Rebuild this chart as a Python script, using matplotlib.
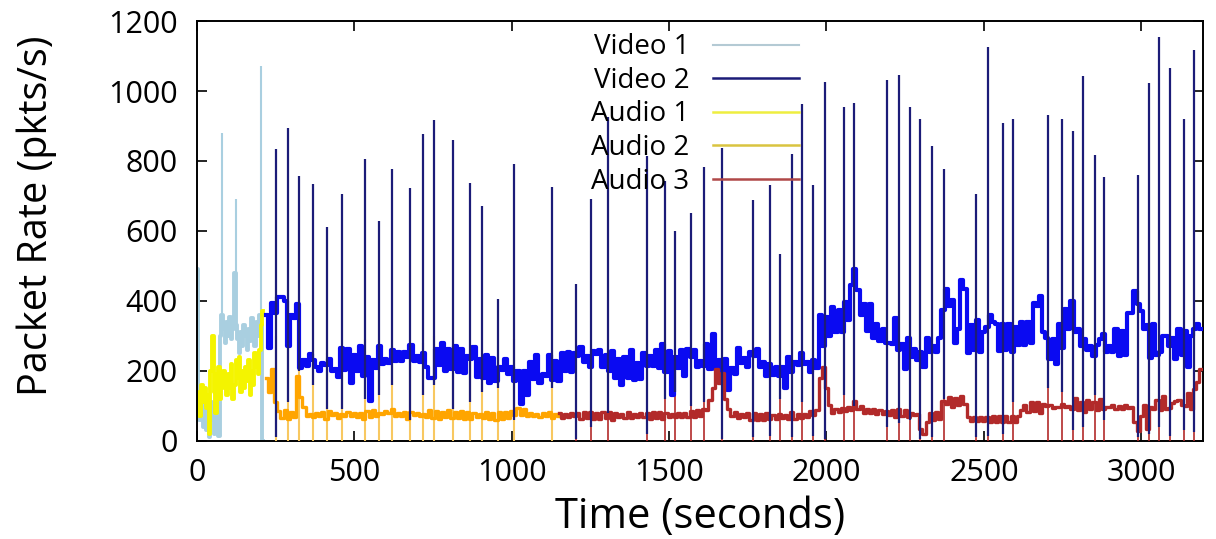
import numpy as np
import matplotlib
matplotlib.use("Agg")
import matplotlib.pyplot as plt
from matplotlib.lines import Line2D

plt.rcParams['font.family'] = ['Open Sans', 'DejaVu Sans']

# ---------------- data ----------------
# Video 1 and Audio 1: 0-210 s, 5 s samples
early_t = np.arange(0, 215, 5)
video1 = [490, 150, 60, 95, 40, 120, 30, 85, 10, 110, 60, 20, 90, 40, 15,
          300, 360, 320, 280, 340, 300, 355, 290, 320, 480, 330, 290, 250,
          310, 270, 330, 300, 260, 320, 285, 350, 300, 270, 340, 300, 360,
          330, 0]
audio1 = [140, 95, 70, 160, 110, 150, 95, 130, 20, 200, 300, 140, 80, 190,
          210, 120, 150, 200, 170, 130, 190, 150, 220, 120, 160, 230, 180,
          240, 140, 200, 150, 210, 170, 230, 130, 200, 160, 250, 210, 190,
          260, 330, 370]
video1_spike_t = [80, 124, 204]
video1_spike_hi = [881, 690, 1071]
video1_spike_lo = [300, 320, 260]

# Video 2: 220-3190 s, 10 s samples
video2_t = np.arange(220, 3200, 10)
video2 = [
    360, 265, 395, 365, 410, 410, 400, 270, 360, 352,
    390, 207, 230, 213, 247, 230, 210, 200, 222, 218,
    235, 201, 205, 183, 265, 202, 263, 166, 245, 200,
    272, 185, 240, 115, 230, 208, 271, 220, 235, 224,
    260, 227, 253, 227, 253, 240, 275, 228, 242, 226,
    252, 210, 180, 180, 263, 216, 280, 200, 262, 205,
    270, 197, 263, 195, 243, 235, 267, 182, 235, 180,
    245, 165, 237, 170, 210, 202, 233, 190, 210, 172,
    200, 105, 200, 130, 225, 178, 245, 165, 192, 185,
    245, 173, 227, 170, 250, 200, 253, 198, 250, 242,
    268, 225, 243, 210, 257, 248, 260, 212, 245, 200,
    258, 180, 233, 160, 240, 180, 260, 175, 222, 178,
    252, 215, 243, 215, 260, 208, 277, 196, 258, 130,
    240, 207, 260, 185, 263, 240, 260, 212, 228, 215,
    278, 205, 305, 205, 230, 178, 235, 145, 208, 192,
    265, 223, 237, 210, 255, 242, 263, 210, 225, 185,
    220, 187, 210, 185, 210, 150, 240, 198, 225, 218,
    250, 220, 225, 197, 230, 208, 360, 270, 355, 300,
    382, 310, 375, 310, 397, 345, 445, 490, 430, 360,
    392, 315, 390, 295, 335, 285, 320, 280, 280, 278,
    350, 260, 277, 205, 295, 240, 263, 232, 255, 210,
    295, 255, 270, 255, 295, 375, 435, 385, 402, 280,
    320, 460, 435, 250, 330, 260, 345, 255, 310, 325,
    360, 340, 335, 257, 335, 260, 335, 255, 325, 275,
    340, 275, 340, 280, 395, 385, 415, 310, 295, 235,
    292, 220, 335, 265, 377, 320, 400, 310, 320, 270,
    292, 260, 270, 243, 275, 290, 305, 255, 272, 255,
    320, 243, 315, 245, 365, 365, 427, 390, 370, 320,
    330, 237, 335, 245, 255, 300, 300, 270, 295, 235,
    320, 245, 315, 210, 300, 320, 335, 320]

# Audio 2: 220-1150 s, Audio 3: 1150-3190 s (10 s samples)
audio2_t = np.arange(220, 1160, 10)
audio2 = [
    180, 140, 205, 110, 85, 65, 88, 62, 82, 68,
    185, 125, 98, 70, 78, 68, 80, 72, 82, 64,
    85, 74, 80, 66, 78, 70, 83, 72, 79, 68,
    81, 63, 86, 67, 88, 70, 80, 77, 86, 80,
    90, 70, 80, 70, 82, 64, 84, 73, 80, 70,
    78, 68, 87, 66, 86, 64, 84, 67, 88, 66,
    84, 65, 86, 63, 82, 62, 80, 69, 78, 66,
    83, 63, 80, 61, 82, 64, 84, 66, 86, 75,
    94, 73, 92, 71, 80, 70, 78, 67, 80, 70,
    82, 66, 78, 70]
audio3_t = np.arange(1150, 3200, 10)
audio3 = [
    80, 66, 78, 68, 79, 70, 81, 64, 82, 66,
    83, 64, 81, 63, 84, 65, 82, 61, 80, 68,
    78, 66, 84, 65, 78, 67, 79, 68, 80, 63,
    82, 65, 84, 64, 81, 68, 78, 67, 80, 69,
    81, 68, 86, 67, 88, 70, 90, 88, 118, 150,
    205, 165, 195, 120, 90, 70, 83, 65, 78, 67,
    79, 61, 80, 59, 78, 60, 80, 62, 73, 63,
    76, 65, 74, 63, 82, 64, 76, 65, 78, 68,
    86, 75, 88, 180, 212, 150, 103, 81, 92, 83,
    94, 85, 96, 88, 113, 91, 100, 81, 92, 79,
    90, 78, 88, 77, 86, 75, 88, 69, 90, 71,
    88, 69, 80, 73, 78, 35, 20, 55, 80, 61,
    82, 63, 115, 105, 126, 98, 123, 103, 128, 105,
    68, 57, 67, 56, 68, 58, 67, 55, 71, 54,
    70, 53, 71, 55, 72, 54, 70, 88, 102, 83,
    110, 85, 112, 80, 106, 100, 103, 95, 98, 97,
    105, 98, 100, 92, 123, 88, 112, 82, 118, 90,
    110, 88, 120, 90, 98, 97, 104, 92, 100, 90,
    103, 95, 98, 55, 28, 70, 103, 35, 96, 92,
    118, 88, 128, 92, 93, 108, 113, 117, 103, 100,
    138, 92, 148, 168, 205]

# Periodic bursts (Video 2 peaks, with matching audio dips/peaks)
spike_t = [251, 289, 325, 369, 412, 461, 535, 579, 618, 678, 717, 752,
           814, 868, 905, 955, 1006, 1129, 1204, 1252, 1307, 1430, 1487, 1518, 1570,
           1611, 1668, 1766, 1821, 1853, 1890, 1922, 1957, 1995, 2055, 2087, 2192,
           2229, 2266, 2298, 2335, 2372,
           2475, 2512, 2562, 2594, 2704, 2748, 2784, 2815, 2852, 2883, 2989, 3025,
           3056, 3092, 3135, 3167]
spike_hi = [833, 895, 757, 733, 612, 705, 807, 628, 778, 724, 878, 916,
            860, 738, 671, 405, 792, 727, 448, 692, 925, 814, 743, 600, 650,
            784, 838, 688, 731, 533, 821, 962, 731, 1026, 955, 965, 1031, 1047,
            955, 921, 843, 776,
            705, 1126, 909, 921, 931, 921, 887, 1043, 816, 755, 760, 1022, 1155,
            1066, 921, 1117]
spike_lo = [10, 110, 200, 160, 90, 90, 120, 130, 160, 60, 130, 160,
            90, 110, 140, 150, 60, 150, 5, 40, 80, 20, 120, 140, 100,
            110, 5, 10, 15, 120, 10, 110, 15, 5, 130, 100, 40, 50, 60, 5, 10, 120,
            10, 15, 20, 110, 150, 140, 30, 40, 130, 60, 10, 20, 40, 15, 30, 25]
audio_spike_hi = [300, 280, 290, 260, 250, 270, 290, 260, 270, 250, 280, 300,
                  270, 260, 250, 240, 290, 260, 230, 200, 250, 220, 210, 190, 200,
                  230, 260, 190, 210, 180, 200, 220, 190, 260, 200, 210, 230, 220,
                  240, 200, 190, 210,
                  200, 270, 220, 210, 230, 220, 240, 260, 200, 210, 190, 230, 250,
                  220, 240, 260]

labels = ["Video 1", "Video 2", "Audio 1", "Audio 2", "Audio 3"]
x_ticks = [0, 500, 1000, 1500, 2000, 2500, 3000]
y_ticks = [0, 200, 400, 600, 800, 1000, 1200]

# ---------------- styling ----------------
c_video1 = "#a9cfe0"
c_video2 = "#0a0af2"
c_video2_spike = "#1c1c78"
c_audio1 = "#f4f400"
c_audio2 = "#ffa500"
c_audio2_spike = "#f8c860"
c_audio3 = "#b22a2a"

fig = plt.figure(figsize=(12.16, 5.39), dpi=100)
ax = fig.add_axes([0.162, 0.182, 0.827, 0.779])

# Video 1
ax.vlines(video1_spike_t, video1_spike_lo, video1_spike_hi, color=c_video1, lw=1.5, zorder=2)
ax.plot(early_t, video1, color=c_video1, lw=2.8, drawstyle='steps-mid', zorder=2)
# Audio 1
ax.plot(early_t, audio1, color=c_audio1, lw=2.8, drawstyle='steps-mid', zorder=2.5)

# audio burst lines (below video trace)
sp_t = np.array(spike_t)
ash = np.array(audio_spike_hi)
m2 = sp_t < 1150
ax.vlines(sp_t[m2], 0, ash[m2], color=c_audio2_spike, lw=1.5, zorder=2.6)
ax.vlines(sp_t[~m2], 0, ash[~m2], color=c_audio3, lw=1.4, alpha=0.85, zorder=2.6)

# Video 2 trace
ax.plot(video2_t, video2, color=c_video2, lw=3.0, drawstyle='steps-mid', zorder=3)

# Audio 2 / Audio 3
ax.plot(audio2_t, audio2, color=c_audio2, lw=2.4, drawstyle='steps-mid', zorder=3.5)
ax.plot(audio3_t, audio3, color=c_audio3, lw=2.4, drawstyle='steps-mid', zorder=3.5)

# Video 2 bursts
ax.vlines(spike_t, spike_lo, spike_hi, color=c_video2_spike, lw=1.6, zorder=4)

ax.set_xlim(0, 3195)
ax.set_ylim(0, 1200)
ax.set_xticks(x_ticks)
ax.set_yticks(y_ticks)
ax.tick_params(direction='in', top=True, right=True, length=7, width=1.2,
               labelsize=22, colors='black')
ax.tick_params(axis='x', pad=12)
ax.tick_params(axis='y', pad=14)
for s in ax.spines.values():
    s.set_linewidth(1.4)

ax.set_xlabel("Time (seconds)", fontsize=30, labelpad=6)
ax.set_ylabel("Packet Rate (pkts/s)", fontsize=28.5)
ax.yaxis.set_label_coords(-0.139, 0.537)

handles = [Line2D([], [], color="#b4cad4", lw=1.5),
           Line2D([], [], color=c_video2_spike, lw=1.8),
           Line2D([], [], color="#eeee40", lw=1.8),
           Line2D([], [], color="#d9c440", lw=1.8),
           Line2D([], [], color="#b04848", lw=1.8)]
leg = ax.legend(handles, labels, loc='upper right', bbox_to_anchor=(0.618, 1.017),
                frameon=False, fontsize=20, markerfirst=False, handlelength=3.1,
                handletextpad=0.85, labelspacing=0.2, borderpad=0.2)
leg.set_zorder(10)

fig.savefig("out.png", dpi=100)
